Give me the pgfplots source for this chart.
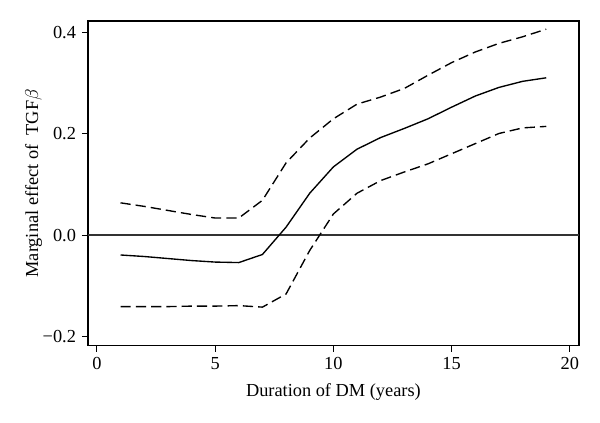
\documentclass[border=0pt]{standalone}
\usepackage{fontspec}
\setmainfont{Liberation Serif}
\usepackage{pgfplots}
\pgfplotsset{compat=1.18}

\begin{document}
\begin{tikzpicture}
\begin{axis}[
    scale only axis,
    width=289pt, height=191pt,
    xmin=-0.38, xmax=20.38,
    ymin=-0.218, ymax=0.423,
    xtick={0,5,10,15,20},
    ytick={-0.2,0,0.2,0.4},
    yticklabels={−0.2,0.0,0.2,0.4},
    tick align=outside,
    xtick pos=left, ytick pos=left,
    major tick length=3.5pt,
    every tick/.style={black, line width=0.6pt},
    axis line style={line width=0.8pt},
    /pgf/number format/assume math mode=true,
    tick label style={font=\fontsize{10.8}{12}\selectfont},
    label style={font=\fontsize{10.8}{13}\selectfont},
    xlabel={Duration of DM (years)},
    ylabel={Marginal effect of\ \ TGF$\beta$},
    xlabel style={yshift=-1pt},
    ylabel style={yshift=-6.5pt},
    clip=false,
]
% zero reference line
\addplot[black!80, line width=0.9pt] coordinates {(-0.38,0) (20.38,0)};

% point estimate
\addplot[black, line width=0.8pt] coordinates {
(1,-0.039) (2,-0.042) (3,-0.046) (4,-0.050) (5,-0.053) (6,-0.054) (7,-0.038)
(8,0.016) (9,0.083) (10,0.135) (11,0.170) (12,0.193) (13,0.211) (14,0.230)
(15,0.253) (16,0.275) (17,0.292) (18,0.304) (19,0.311)};

% upper bound
\addplot[black, line width=0.8pt, dash pattern=on 6pt off 3pt] coordinates {
(1,0.064) (2,0.057) (3,0.049) (4,0.041) (5,0.034) (6,0.034) (7,0.069)
(8,0.143) (9,0.192) (10,0.230) (11,0.259) (12,0.273) (13,0.290) (14,0.316)
(15,0.341) (16,0.362) (17,0.379) (18,0.392) (19,0.407)};

% lower bound
\addplot[black, line width=0.8pt, dash pattern=on 6pt off 3pt] coordinates {
(1,-0.141) (2,-0.141) (3,-0.141) (4,-0.140) (5,-0.140) (6,-0.139) (7,-0.142)
(8,-0.116) (9,-0.030) (10,0.042) (11,0.083) (12,0.108) (13,0.125) (14,0.141)
(15,0.161) (16,0.181) (17,0.201) (18,0.212) (19,0.215)};

\path (axis description cs:-0.179,1.065) rectangle (axis description cs:1.043,-0.238);
\end{axis}
\end{tikzpicture}
\end{document}
